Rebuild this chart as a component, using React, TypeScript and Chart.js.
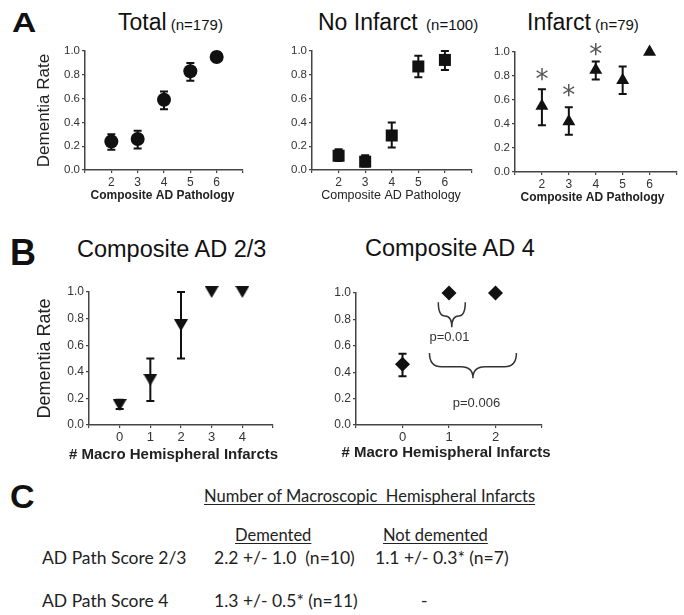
import React, { useEffect, useRef } from 'react';
import { Chart, registerables } from 'chart.js';

Chart.register(...registerables);

const FONT = '"Liberation Sans", Arial, Helvetica, sans-serif';
const TABLE_FONT = 'Lato, "Open Sans", sans-serif';
const INK = '#111111';
const AXIS = '#444444';
const TICK = '#333333';

// ---------- Panel A data ----------
const compositeScores = [2, 3, 4, 5, 6];
const totalRate = [0.24, 0.26, 0.59, 0.83, 0.95];
const totalLow = [0.17, 0.18, 0.51, 0.75, 0.92];
const totalHigh = [0.3, 0.33, 0.66, 0.9, 0.99];
const noInfarctRate = [0.12, 0.07, 0.29, 0.87, 0.925];
const noInfarctLow = [0.075, 0.03, 0.19, 0.78, 0.84];
const noInfarctHigh = [0.175, 0.125, 0.4, 0.96, 1.0];
const infarctRate = [0.55, 0.42, 0.85, 0.765, 1.0];
const infarctLow = [0.39, 0.31, 0.77, 0.65, 1.0];
const infarctHigh = [0.69, 0.54, 0.92, 0.88, 1.0];
const infarctStarX = [2, 3, 4];
const infarctStarY = [0.815, 0.68, 1.02];

// ---------- Panel B data ----------
const macroInfarctsAD23 = [0, 1, 2, 3, 4];
const ad23Rate = [0.15, 0.34, 0.75, 1.0, 1.0];
const ad23Low = [0.12, 0.18, 0.5, 1.0, 1.0];
const ad23High = [0.19, 0.5, 1.0, 1.0, 1.0];
const macroInfarctsAD4 = [0, 1, 2];
const ad4Rate = [0.46, 1.0, 1.0];
const ad4Low = [0.37, 1.0, 1.0];
const ad4High = [0.54, 1.0, 1.0];
const pLabels = ['p=0.01', 'p=0.006'];
const braceFromX = [0.77, 0.58];
const braceToX = [1.35, 2.45];
const braceTopY = [0.93, 0.545];
const braceTipY = [0.74, 0.355];
const pLabelX = [1.01, 1.59];
const pLabelY = [0.66, 0.167];

// ---------- Panel C data ----------
const tableHeader = 'Number of Macroscopic  Hemispheral Infarcts';
const tableColumns = ['Demented', 'Not demented'];
const tableRows = ['AD Path Score 2/3', 'AD Path Score 4'];
const dementedCol = ['2.2 +/- 1.0  (n=10)', '1.3 +/- 0.5* (n=11)'];
const notDementedCol = ['1.1 +/- 0.3* (n=7)', '-'];

function downTriangle(w: number, h: number) {
  const c = document.createElement('canvas');
  c.width = w;
  c.height = h;
  const g = c.getContext('2d')!;
  g.fillStyle = INK;
  g.beginPath();
  g.moveTo(0, 0);
  g.lineTo(w, 0);
  g.lineTo(w / 2, h);
  g.closePath();
  g.fill();
  return c;
}

type Box = { left: number; top: number; width: number; height: number };
type Area = { l: number; t: number; r: number; b: number };

type PanelProps = {
  box: Box;
  area: Area;
  xMin: number;
  xMax: number;
  xs: number[];
  ys: number[];
  lo: number[];
  hi: number[];
  pointStyle: any;
  radius: number;
  yTitle?: string;
  yTitleSize?: number;
  xTitle: string;
  xTitleBold: boolean;
  xTitleSize: number;
  xTitleAt: [number, number];
  yTickSize: number;
  xTickSize: number;
  cap: number;
  starX?: number[];
  starY?: number[];
  braces?: boolean;
};

function Panel(p: PanelProps) {
  const ref = useRef<HTMLCanvasElement>(null);
  useEffect(() => {
    const canvas = ref.current!;
    const yW = p.area.l - p.box.left;
    const xH = p.box.top + p.box.height - p.area.b;
    const padTop = p.area.t - p.box.top;
    const padRight = p.box.left + p.box.width - p.area.r;
    const first = p.xs[0];
    const last = p.xs[p.xs.length - 1];

    const overlay = {
      id: 'overlay',
      beforeDatasetsDraw(chart: any) {
        const ctx = chart.ctx;
        const sx = chart.scales.x;
        const sy = chart.scales.y;
        ctx.save();
        ctx.strokeStyle = INK;
        ctx.lineWidth = 2;
        p.xs.forEach((xv, i) => {
          if (p.lo[i] === p.hi[i]) return;
          const px = sx.getPixelForValue(xv);
          const y1 = sy.getPixelForValue(p.lo[i]);
          const y2 = sy.getPixelForValue(p.hi[i]);
          ctx.beginPath();
          ctx.moveTo(px, y1);
          ctx.lineTo(px, y2);
          ctx.moveTo(px - p.cap, y1);
          ctx.lineTo(px + p.cap, y1);
          ctx.moveTo(px - p.cap, y2);
          ctx.lineTo(px + p.cap, y2);
          ctx.stroke();
        });
        ctx.restore();
      },
      afterDatasetsDraw(chart: any) {
        const ctx = chart.ctx;
        const sx = chart.scales.x;
        const sy = chart.scales.y;
        ctx.save();
        if (p.starX && p.starY) {
          ctx.fillStyle = '#555555';
          ctx.font = '26px "DejaVu Sans", sans-serif';
          ctx.textAlign = 'center';
          ctx.textBaseline = 'alphabetic';
          const m = ctx.measureText('*');
          const off = (m.actualBoundingBoxAscent - m.actualBoundingBoxDescent) / 2;
          p.starX.forEach((xv, i) => {
            ctx.fillText('*', sx.getPixelForValue(xv), sy.getPixelForValue(p.starY![i]) + off);
          });
        }
        if (p.braces) {
          ctx.strokeStyle = '#333333';
          ctx.lineWidth = 1.5;
          pLabels.forEach((label, i) => {
            const x0 = sx.getPixelForValue(braceFromX[i]);
            const x1 = sx.getPixelForValue(braceToX[i]);
            const yt = sy.getPixelForValue(braceTopY[i]);
            const yp = sy.getPixelForValue(braceTipY[i]);
            const xc = (x0 + x1) / 2;
            const ym = yt + (yp - yt) * 0.55;
            const r = Math.min((x1 - x0) / 4, 12);
            ctx.beginPath();
            ctx.moveTo(x0, yt);
            ctx.quadraticCurveTo(x0, ym, x0 + r, ym);
            ctx.lineTo(xc - r, ym);
            ctx.quadraticCurveTo(xc, ym, xc, yp);
            ctx.quadraticCurveTo(xc, ym, xc + r, ym);
            ctx.lineTo(x1 - r, ym);
            ctx.quadraticCurveTo(x1, ym, x1, yt);
            ctx.stroke();
            ctx.fillStyle = '#333333';
            ctx.font = '13px ' + FONT;
            ctx.textAlign = 'center';
            ctx.textBaseline = 'middle';
            ctx.fillText(label, sx.getPixelForValue(pLabelX[i]), sy.getPixelForValue(pLabelY[i]));
          });
        }
        ctx.restore();
      },
      afterDraw(chart: any) {
        const ctx = chart.ctx;
        ctx.save();
        ctx.fillStyle = '#222222';
        ctx.font = (p.xTitleBold ? 'bold ' : '') + p.xTitleSize + 'px ' + FONT;
        ctx.textAlign = 'center';
        ctx.textBaseline = 'middle';
        ctx.fillText(p.xTitle, p.xTitleAt[0] - p.box.left, p.xTitleAt[1] - p.box.top);
        ctx.restore();
      },
    };

    const grid = {
      display: true,
      drawOnChartArea: false,
      drawTicks: true,
      tickLength: 3,
      color: AXIS,
      lineWidth: 1.2,
    };
    const border = { display: true, color: AXIS, width: 1.5 };

    const chart = new Chart(canvas, {
      type: 'scatter',
      data: {
        datasets: [
          {
            data: p.xs.map((x, i) => ({ x, y: p.ys[i] })),
            pointStyle: p.pointStyle,
            pointRadius: p.radius,
            pointHoverRadius: p.radius,
            backgroundColor: INK,
            borderColor: INK,
            borderWidth: 0,
            showLine: false,
            clip: false,
          } as any,
        ],
      },
      options: {
        responsive: false,
        maintainAspectRatio: false,
        animation: false,
        events: [],
        layout: { padding: { top: padTop, right: padRight, left: 0, bottom: 0 } },
        plugins: {
          legend: { display: false },
          tooltip: { enabled: false },
        },
        scales: {
          x: {
            type: 'linear',
            min: p.xMin,
            max: p.xMax,
            afterFit: (s: any) => {
              s.height = xH;
            },
            ticks: {
              stepSize: 1,
              autoSkip: false,
              maxRotation: 0,
              padding: 2,
              color: TICK,
              font: { family: FONT, size: p.xTickSize },
              callback: (v: any) => (v >= first && v <= last ? String(v) : ''),
            },
            grid,
            border,
            title: { display: false },
          } as any,
          y: {
            type: 'linear',
            min: 0,
            max: 1,
            afterFit: (s: any) => {
              s.width = yW;
            },
            ticks: {
              stepSize: 0.2,
              padding: 2,
              color: TICK,
              font: { family: FONT, size: p.yTickSize },
              callback: (v: any) => Number(v).toFixed(1),
            },
            grid,
            border,
            title: {
              display: !!p.yTitle,
              text: p.yTitle || '',
              color: '#222222',
              padding: 0,
              font: { family: FONT, size: p.yTitleSize || 17 },
            },
          } as any,
        },
      },
      plugins: [overlay],
    });
    return () => chart.destroy();
  }, []);
  return (
    <canvas
      ref={ref}
      width={p.box.width}
      height={p.box.height}
      style={{ position: 'absolute', left: p.box.left, top: p.box.top, width: p.box.width, height: p.box.height }}
    />
  );
}

function Txt(props: {
  x: number;
  baseline: number;
  size: number;
  children: any;
  family?: string;
  bold?: boolean;
  underline?: boolean;
  color?: string;
  scaleX?: number;
}) {
  const asc = props.family === TABLE_FONT ? 0.887 : 0.8465;
  return (
    <div
      style={{
        position: 'absolute',
        left: props.x,
        top: props.baseline - asc * props.size,
        fontSize: props.size,
        lineHeight: props.size + 'px',
        fontFamily: props.family || FONT,
        fontWeight: props.bold ? 'bold' : 'normal',
        textDecoration: props.underline ? 'underline' : 'none',
        textDecorationThickness: '1px',
        textUnderlineOffset: '2px',
        color: props.color || '#111111',
        whiteSpace: 'pre',
        transform: props.scaleX ? `scaleX(${props.scaleX})` : undefined,
        transformOrigin: 'left top',
      }}
    >
      {props.children}
    </div>
  );
}

export default function App() {
  const tri = React.useMemo(() => downTriangle(14, 12), []);
  const rowSize = 17.5;
  return (
    <div style={{ position: 'absolute', left: 0, top: 0, width: 684, height: 615, background: '#fff', overflow: 'hidden' }}>
      {/* Panel letters */}
      <Txt x={12} baseline={33} size={28} bold scaleX={1.2}>A</Txt>
      <Txt x={10} baseline={265} size={36} bold>B</Txt>
      <Txt x={10} baseline={508} size={34} bold>C</Txt>

      {/* Panel A titles */}
      <Txt x={118} baseline={30} size={23}>
        Total<span style={{ fontSize: 15 }}> (n=179)</span>
      </Txt>
      <Txt x={318} baseline={30} size={23}>
        No Infarct<span style={{ fontSize: 15 }}>  (n=100)</span>
      </Txt>
      <Txt x={527} baseline={30} size={23}>
        Infarct<span style={{ fontSize: 15 }}> (n=79)</span>
      </Txt>

      {/* Panel B titles */}
      <Txt x={77} baseline={258} size={23.5}>Composite AD 2/3</Txt>
      <Txt x={365} baseline={257} size={23.5}>Composite AD 4</Txt>

      <Panel
        box={{ left: 34, top: 30, width: 216, height: 173 }}
        area={{ l: 85, t: 51, r: 247, b: 170 }}
        xMin={1}
        xMax={7}
        xs={compositeScores}
        ys={totalRate}
        lo={totalLow}
        hi={totalHigh}
        pointStyle="circle"
        radius={7}
        yTitle="Dementia Rate"
        yTitleSize={17}
        xTitle="Composite AD Pathology"
        xTitleBold
        xTitleSize={12}
        xTitleAt={[162.5, 196]}
        yTickSize={11.5}
        xTickSize={12}
        cap={4}
      />
      <Panel
        box={{ left: 270, top: 30, width: 210, height: 173 }}
        area={{ l: 312, t: 51, r: 477, b: 170 }}
        xMin={1}
        xMax={7}
        xs={compositeScores}
        ys={noInfarctRate}
        lo={noInfarctLow}
        hi={noInfarctHigh}
        pointStyle="rect"
        radius={8.5}
        xTitle="Composite AD Pathology"
        xTitleBold={false}
        xTitleSize={12.5}
        xTitleAt={[391, 196]}
        yTickSize={11.5}
        xTickSize={12}
        cap={4}
      />
      <Panel
        box={{ left: 475, top: 30, width: 209, height: 175 }}
        area={{ l: 515, t: 52, r: 680, b: 172 }}
        xMin={1}
        xMax={7}
        xs={compositeScores}
        ys={infarctRate}
        lo={infarctLow}
        hi={infarctHigh}
        pointStyle="triangle"
        radius={7.5}
        xTitle="Composite AD Pathology"
        xTitleBold
        xTitleSize={12}
        xTitleAt={[592.5, 198]}
        yTickSize={11.5}
        xTickSize={12}
        cap={4}
        starX={infarctStarX}
        starY={infarctStarY}
      />
      <Panel
        box={{ left: 34, top: 270, width: 246, height: 194 }}
        area={{ l: 89, t: 292, r: 275, b: 425 }}
        xMin={-1}
        xMax={5}
        xs={macroInfarctsAD23}
        ys={ad23Rate}
        lo={ad23Low}
        hi={ad23High}
        pointStyle={tri}
        radius={7}
        yTitle="Dementia Rate"
        yTitleSize={18}
        xTitle="# Macro Hemispheral Infarcts"
        xTitleBold
        xTitleSize={15}
        xTitleAt={[173.5, 455]}
        yTickSize={12}
        xTickSize={13}
        cap={4}
      />
      <Panel
        box={{ left: 310, top: 270, width: 240, height: 192 }}
        area={{ l: 356, t: 293, r: 542, b: 425 }}
        xMin={-1}
        xMax={3}
        xs={macroInfarctsAD4}
        ys={ad4Rate}
        lo={ad4Low}
        hi={ad4High}
        pointStyle="rectRot"
        radius={7.5}
        xTitle="# Macro Hemispheral Infarcts"
        xTitleBold
        xTitleSize={15}
        xTitleAt={[446, 453]}
        yTickSize={12}
        xTickSize={13}
        cap={4}
        braces
      />

      {/* Panel C table */}
      <Txt x={204} baseline={503} size={16.5} family={TABLE_FONT} underline color="#222">
        {tableHeader}
      </Txt>
      <Txt x={235} baseline={542} size={16.5} family={TABLE_FONT} underline color="#222">
        {tableColumns[0]}
      </Txt>
      <Txt x={383} baseline={542} size={16.5} family={TABLE_FONT} underline color="#222">
        {tableColumns[1]}
      </Txt>
      <Txt x={42} baseline={565} size={rowSize} family={TABLE_FONT} color="#222">{tableRows[0]}</Txt>
      <Txt x={214} baseline={565} size={rowSize} family={TABLE_FONT} color="#222">{dementedCol[0]}</Txt>
      <Txt x={375} baseline={565} size={rowSize} family={TABLE_FONT} color="#222">{notDementedCol[0]}</Txt>
      <Txt x={42} baseline={608} size={rowSize} family={TABLE_FONT} color="#222">{tableRows[1]}</Txt>
      <Txt x={214} baseline={608} size={rowSize} family={TABLE_FONT} color="#222">{dementedCol[1]}</Txt>
      <Txt x={421} baseline={608} size={rowSize} family={TABLE_FONT} color="#222">{notDementedCol[1]}</Txt>
    </div>
  );
}
